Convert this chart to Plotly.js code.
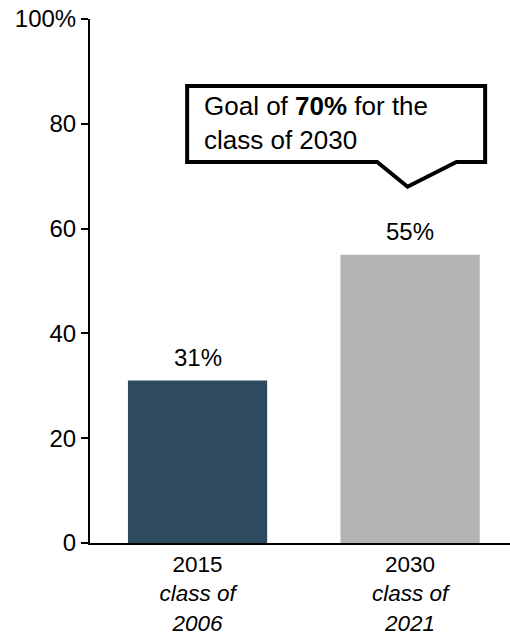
<!DOCTYPE html>
<html>
<head>
<meta charset="utf-8">
<script src="https://cdn.plot.ly/plotly-3.0.1.min.js"></script>
<style>html,body{margin:0;padding:0;background:#fff;}#chart{width:510px;height:634px;}</style>
</head>
<body>
<div id="chart"></div>
<script>
const categories = ["2015<br><i>class of</i><br><i>2006</i>", "2030<br><i>class of</i><br><i>2021</i>"];
const values = [31, 55];
const valueLabels = ["31%", "55%"];
const barColors = ["#2e4a5e", "#b3b3b3"];
const yTickVals = [0, 20, 40, 60, 80, 100];
const yTickText = ["0", "20", "40", "60", "80", "100%"];
const goalText = "Goal of <b>70%</b> for the<br>class of 2030";

const trace = {
  type: "bar",
  x: [0, 1],
  y: values,
  marker: {color: barColors},
  width: 0.655,
  hoverinfo: "none"
};

const valueAnnotations = values.map((v, i) => ({
  xref: "x", yref: "y", x: i, y: v,
  xanchor: "center", yanchor: "bottom", yshift: 8,
  text: valueLabels[i], showarrow: false,
  font: {size: 24, color: "#000"}
}));

const layout = {
  width: 510, height: 634,
  margin: {l: 90, r: 0, t: 19, b: 91},
  paper_bgcolor: "#fff", plot_bgcolor: "#fff",
  font: {family: "Liberation Sans, Arial, sans-serif", size: 24, color: "#000"},
  showlegend: false,
  xaxis: {
    range: [-0.506, 1.47],
    tickvals: [0, 1], ticktext: categories,
    showline: true, linecolor: "#000", linewidth: 2,
    ticks: "", showgrid: false, zeroline: false,
    tickfont: {size: 22.5}, fixedrange: true
  },
  yaxis: {
    range: [0, 100],
    tickvals: yTickVals, ticktext: yTickText,
    showline: true, linecolor: "#000", linewidth: 2,
    ticks: "outside", ticklen: 7, tickwidth: 2, tickcolor: "#000",
    showgrid: false, zeroline: false,
    tickfont: {size: 24}, fixedrange: true
  },
  shapes: [{
    type: "path", xref: "x", yref: "y",
    path: "M -0.049,87.2 L 1.353,87.2 L 1.353,72.7 L 1.218,72.7 L 0.988,68.0 L 0.845,72.7 L -0.049,72.7 Z",
    fillcolor: "#fff",
    line: {color: "#000", width: 4}
  }],
  annotations: valueAnnotations.concat([{
    xref: "x", yref: "y", x: 0.022, y: 80.2,
    xanchor: "left", yanchor: "middle", align: "left",
    text: goalText, showarrow: false,
    font: {size: 26, color: "#000"}
  }])
};

Plotly.newPlot("chart", [trace], layout, {displayModeBar: false, staticPlot: true});
</script>
</body>
</html>
